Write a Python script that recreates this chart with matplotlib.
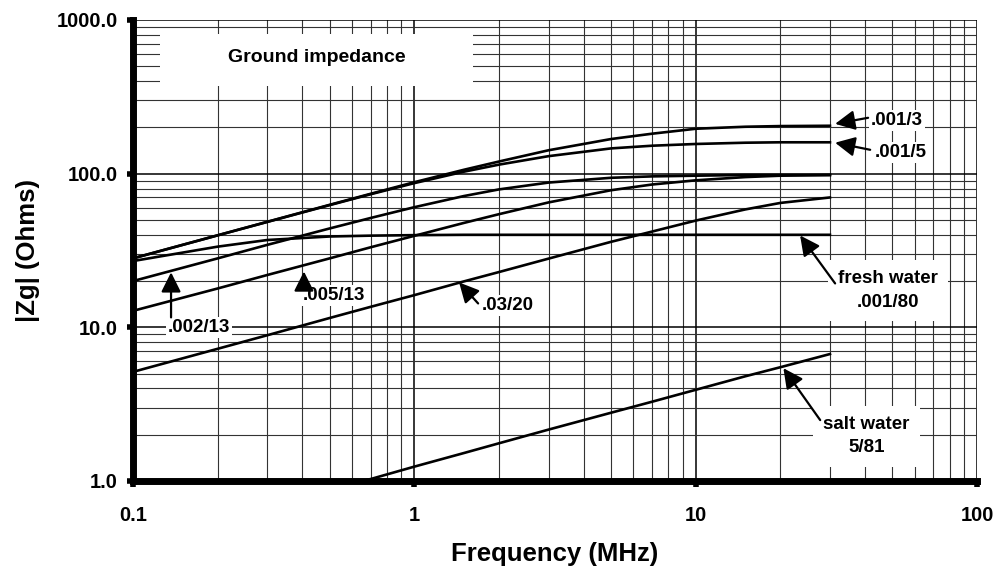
import matplotlib.pyplot as plt
from matplotlib.patches import Rectangle
from matplotlib.ticker import NullFormatter, LogLocator

plt.rcParams['font.family'] = ['Liberation Sans', 'DejaVu Sans']
plt.rcParams['font.weight'] = 'bold'

# frequency points (MHz) and |Zg| (Ohms)
freq = [0.1, 0.2, 0.3, 0.5, 0.7, 1, 1.5, 2, 3, 5, 7, 10, 15, 20, 30]
z_001_3 = [28.1, 39.7, 48.6, 62.7, 74, 88, 106, 120, 142, 168, 182, 196, 202, 204, 205]
z_001_5 = [28.1, 39.7, 48.5, 62.4, 73.5, 86.8, 103, 114.5, 130, 146, 152, 156, 159, 160, 160]
z_fresh = [27, 33.5, 37, 39, 39.5, 39.8, 40, 40, 40, 40, 40, 40, 40, 40, 40]
z_002_13 = [20, 28.1, 34.4, 44, 51.5, 60.5, 71.5, 79, 87.5, 94, 96, 97, 98, 98, 98]
z_005_13 = [12.8, 17.9, 21.9, 28.1, 33.2, 39.4, 47.8, 54.5, 65, 78, 85, 90.5, 95, 97, 98]
z_03_20 = [5.13, 7.25, 8.88, 11.5, 13.6, 16.2, 19.9, 22.9, 28, 36, 42, 49.5, 58.5, 64.5, 70]

freq_salt = [0.5, 0.7, 1, 1.5, 2, 3, 5, 7, 10, 15, 20, 30]
z_salt = [0.89, 1.03, 1.24, 1.52, 1.76, 2.16, 2.78, 3.28, 3.92, 4.8, 5.5, 6.7]

xtick_vals = [0.1, 1, 10, 100]
xtick_labels = ['0.1', '1', '10', '100']
ytick_vals = [1, 10, 100, 1000]
ytick_labels = ['1.0', '10.0', '100.0', '1000.0']

fig = plt.figure(figsize=(9.98, 5.73), dpi=100)
ax = fig.add_axes([0.1333, 0.1606, 0.8457, 0.8045])
ax.set_xscale('log')
ax.set_yscale('log')
ax.set_xlim(0.1, 100)
ax.set_ylim(1, 1000)

ax.set_axisbelow(True)
ax.xaxis.set_minor_locator(LogLocator(base=10, subs=range(2, 10)))
ax.yaxis.set_minor_locator(LogLocator(base=10, subs=range(2, 10)))
ax.xaxis.set_minor_formatter(NullFormatter())
ax.yaxis.set_minor_formatter(NullFormatter())
ax.grid(True, which='major', color='black', lw=1.1)
ax.grid(True, which='minor', color='0.2', lw=0.8)

for side in ['top', 'right']:
    ax.spines[side].set_visible(False)
for side in ['left', 'bottom']:
    ax.spines[side].set_linewidth(5)

ax.set_xticks(xtick_vals, xtick_labels)
ax.set_yticks(ytick_vals, ytick_labels)
ax.tick_params(which='major', length=4, width=4, color='black', labelsize=14.5)
ax.tick_params(axis='x', which='major', pad=14)
ax.tick_params(axis='y', which='major', pad=7)
ax.tick_params(which='minor', length=0)

curves = [z_001_3, z_001_5, z_fresh, z_002_13, z_005_13, z_03_20]
for z in curves:
    ax.plot(freq, z, color='black', lw=1.9, zorder=2)
ax.plot(freq_salt, z_salt, color='black', lw=1.9, zorder=2)

# white panel behind the title
ax.add_patch(Rectangle((0.032, 0.857), 0.371, 0.113, transform=ax.transAxes,
                       facecolor='white', edgecolor='none', zorder=1))
ax.text(0.218, 0.918, 'Ground impedance', transform=ax.transAxes,
        ha='center', va='center', fontsize=14, fontweight='bold', zorder=3)

arrow = dict(arrowstyle='-|>', color='black', lw=1.6, mutation_scale=30,
             shrinkA=0, shrinkB=0)
box = dict(facecolor='white', edgecolor='none', pad=1.5)

# (tip, tail) pairs for the pointer arrows
arrows = [
    ((31.3, 211), (41.0, 231)),
    ((31.3, 159), (41.7, 143)),
    ((23.5, 39.6), (31.3, 19.3)),
    ((20.5, 5.42), (27.7, 2.49)),
    ((0.1365, 22.8), (0.1365, 11.6)),
    ((0.405, 23.1), (0.405, 17.6)),
    ((1.442, 19.6), (1.685, 14.3)),
]
for tip, tail in arrows:
    ax.annotate('', xy=tip, xytext=tail, arrowprops=arrow, zorder=4)

fs = 13.5
ax.text(42.0, 221, '.001/3', ha='left', va='center', fontsize=fs, bbox=box, zorder=3)
ax.text(43.4, 137, '.001/5', ha='left', va='center', fontsize=fs, bbox=box, zorder=3)
ax.text(0.133, 10.0, '.002/13', ha='left', va='center', fontsize=fs, bbox=box, zorder=3)
ax.text(0.402, 16.1, '.005/13', ha='left', va='center', fontsize=fs, bbox=box, zorder=3)
ax.text(1.741, 13.9, '.03/20', ha='left', va='center', fontsize=fs, bbox=box, zorder=3)
ax.text(48.3, 17.4, 'fresh water\n.001/80', ha='center', va='center', fontsize=fs,
        linespacing=1.5, zorder=3,
        bbox=dict(facecolor='white', edgecolor='none', boxstyle='square,pad=0.55'))
ax.text(40.4, 1.96, 'salt water\n5/81', ha='center', va='center', fontsize=fs,
        linespacing=1.5, zorder=3,
        bbox=dict(facecolor='white', edgecolor='none', boxstyle='square,pad=0.55'))

ax.set_xlabel('Frequency (MHz)', fontsize=18.5, fontweight='bold')
ax.set_ylabel('|Zg| (Ohms)', fontsize=18.5, fontweight='bold')
ax.xaxis.set_label_coords(0.5, -0.133)
ax.yaxis.set_label_coords(-0.11, 0.5)

fig.savefig('out.png', dpi=100)
